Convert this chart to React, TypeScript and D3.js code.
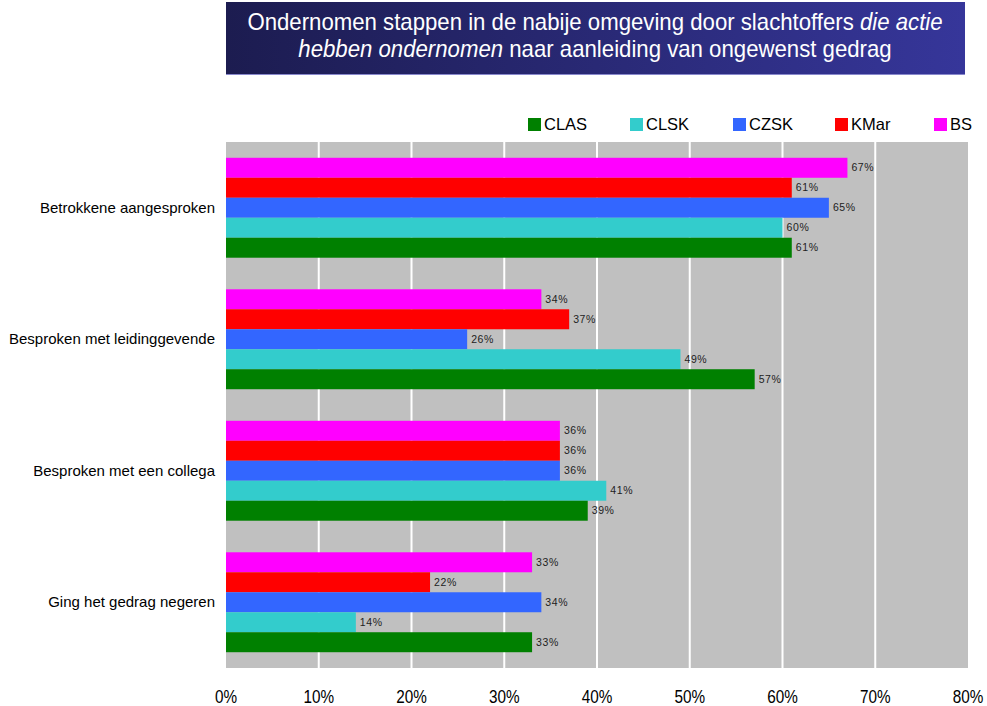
import React from "react";
import * as d3 from "d3";

const categories = [
  "Betrokkene aangesproken",
  "Besproken met leidinggevende",
  "Besproken met een collega",
  "Ging het gedrag negeren",
];
const seriesNames = ["CLAS", "CLSK", "CZSK", "KMar", "BS"];
const seriesColors = ["#008000", "#33CCCC", "#3366FF", "#FF0000", "#FF00FF"];
const CLAS = [61, 57, 39, 33];
const CLSK = [60, 49, 41, 14];
const CZSK = [65, 26, 36, 34];
const KMar = [61, 37, 36, 22];
const BS = [67, 34, 36, 33];
const seriesValues = [CLAS, CLSK, CZSK, KMar, BS];
const xTicks = [0, 10, 20, 30, 40, 50, 60, 70, 80];

export default function App() {
  const W = 987, H = 706;
  const left = 226, right = 968, top = 142, bottom = 668;
  const x = d3.scaleLinear().domain([0, 80]).range([left, right]);
  const y = d3.scaleBand().domain(categories).range([top, bottom]).paddingInner(0.24).paddingOuter(0.12);
  // inner order top→bottom: BS, KMar, CZSK, CLSK, CLAS
  const order = [4, 3, 2, 1, 0];
  const inner = d3.scaleBand<number>().domain(order).range([0, y.bandwidth()]);
  const legendX = [528, 630, 733, 835, 934];
  const font = "'Liberation Sans', Arial, sans-serif";
  return (
    <svg width={W} height={H} style={{ position: "absolute", left: 0, top: 0 }} fontFamily={font}>
      <defs>
        <linearGradient id="tg" x1="0" x2="1" y1="0" y2="0">
          <stop offset="0" stopColor="#1c1c50" />
          <stop offset="1" stopColor="#36369a" />
        </linearGradient>
      </defs>
      <rect x={226} y={2} width={739} height={73} fill="url(#tg)" />
      <line x1={226} x2={965} y1={74.5} y2={74.5} stroke="#8888cc" strokeWidth={1} />
      <g transform="translate(595,0) scale(0.965,1)">
        <text x={0} y={30} textAnchor="middle" fill="#fff" fontSize={23}>
          Ondernomen stappen in de nabije omgeving door slachtoffers <tspan fontStyle="italic">die actie</tspan>
        </text>
        <text x={0} y={57} textAnchor="middle" fill="#fff" fontSize={23}>
          <tspan fontStyle="italic">hebben ondernomen</tspan> naar aanleiding van ongewenst gedrag
        </text>
      </g>
      {seriesNames.map((s, i) => (
        <g key={s}>
          <rect x={legendX[i]} y={118} width={13} height={13} fill={seriesColors[i]} />
          <text x={legendX[i] + 16} y={130} fontSize={16.5} fill="#000">{s}</text>
        </g>
      ))}
      <rect x={left} y={top} width={right - left} height={bottom - top} fill="#C0C0C0" />
      {xTicks.slice(1, -1).map((t) => (
        <line key={t} x1={x(t)} x2={x(t)} y1={top} y2={bottom} stroke="#fff" strokeWidth={2} />
      ))}
      {categories.map((c, ci) => (
        <g key={c}>
          <text x={215} y={(y(c) as number) + y.bandwidth() / 2 + 5} textAnchor="end" fontSize={15} fill="#000">{c}</text>
          {order.map((si) => {
            const v = seriesValues[si][ci];
            const by = (y(c) as number) + (inner(si) as number);
            return (
              <g key={si}>
                <rect x={x(0)} y={by} width={x(v) - x(0)} height={inner.bandwidth()} fill={seriesColors[si]} />
                <text x={x(v) + 4} y={by + inner.bandwidth() / 2 + 3.5} fontSize={10.5} letterSpacing={0.6} fill="#222">{v}%</text>
              </g>
            );
          })}
        </g>
      ))}
      {xTicks.map((t) => (
        <text key={t} x={x(t)} y={703} textAnchor="middle" fontSize={18} fill="#000"
          transform={`translate(${x(t)},0) scale(0.85,1) translate(${-x(t)},0)`}>{t}%</text>
      ))}
    </svg>
  );
}
